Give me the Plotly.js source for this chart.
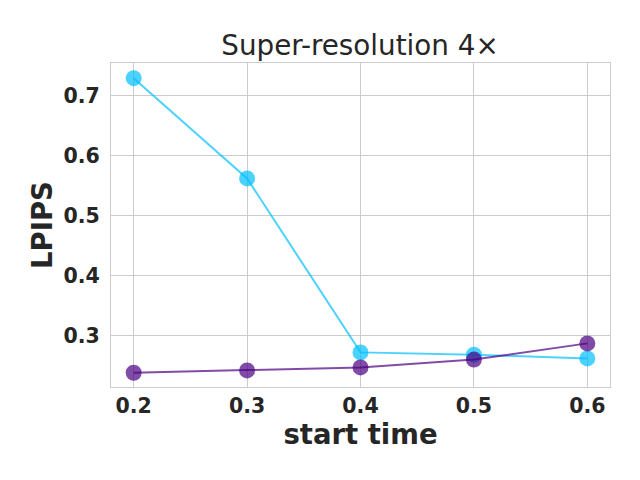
<!DOCTYPE html>
<html>
<head>
<meta charset="utf-8">
<script src="https://cdn.plot.ly/plotly-3.0.1.min.js"></script>
<style>html,body{margin:0;padding:0;background:#fff;}#chart{width:640px;height:480px;}</style>
</head>
<body>
<div id="chart"></div>
<script>
const startTimes = [0.2, 0.3, 0.4, 0.5, 0.6];
const seriesCyan = [0.729, 0.562, 0.272, 0.268, 0.262];
const seriesPurple = [0.238, 0.242, 0.247, 0.260, 0.287];
const xTickVals = [0.2, 0.3, 0.4, 0.5, 0.6];
const xTickText = ['0.2', '0.3', '0.4', '0.5', '0.6'];
const yTickVals = [0.3, 0.4, 0.5, 0.6, 0.7];
const yTickText = ['0.3', '0.4', '0.5', '0.6', '0.7'];

const font = 'DejaVu Sans, sans-serif';

const traces = [
  {
    x: startTimes, y: seriesCyan, type: 'scatter', mode: 'lines+markers',
    line: {color: 'rgba(0,191,255,0.7)', width: 2},
    marker: {color: 'rgba(0,191,255,0.7)', size: 16, line: {width: 0}},
    showlegend: false, hoverinfo: 'none'
  },
  {
    x: startTimes, y: seriesPurple, type: 'scatter', mode: 'lines+markers',
    line: {color: 'rgba(75,0,130,0.7)', width: 2},
    marker: {color: 'rgba(75,0,130,0.7)', size: 16, line: {width: 0}},
    showlegend: false, hoverinfo: 'none'
  }
];

const layout = {
  width: 640, height: 480,
  paper_bgcolor: '#fff', plot_bgcolor: '#fff',
  margin: {l: 110.5, r: 29.7, t: 62.7, b: 93.3, pad: 0},
  title: {
    text: 'Super-resolution 4×',
    font: {family: font, size: 27.8, color: '#262626'},
    x: 0.5625, xanchor: 'center', y: 1 - 45/480, yanchor: 'middle'
  },
  xaxis: {
    range: [0.18, 0.62],
    tickvals: xTickVals, ticktext: xTickText,
    showgrid: true, gridcolor: '#cccccc', gridwidth: 1,
    zeroline: false,
    showline: true, mirror: true, linecolor: '#cccccc', linewidth: 1,
    ticks: 'outside', ticklen: 0.5, tickcolor: 'rgba(0,0,0,0)',
    tickfont: {family: font, size: 20.5, color: '#262626', weight: 'bold'},
    title: {text: '<b>start time</b>', font: {family: font, size: 27.5, color: '#262626'}, standoff: 6}
  },
  yaxis: {
    range: [0.2143, 0.7543],
    tickvals: yTickVals, ticktext: yTickText,
    showgrid: true, gridcolor: '#cccccc', gridwidth: 1,
    zeroline: false,
    showline: true, mirror: true, linecolor: '#cccccc', linewidth: 1,
    ticks: 'outside', ticklen: 6, tickcolor: 'rgba(0,0,0,0)',
    tickfont: {family: font, size: 20.5, color: '#262626', weight: 'bold'},
    title: {text: '<b>LPIPS</b>', font: {family: font, size: 27.5, color: '#262626'}, standoff: 2}
  }
};

Plotly.newPlot('chart', traces, layout, {displayModeBar: false, staticPlot: true});
</script>
</body>
</html>
